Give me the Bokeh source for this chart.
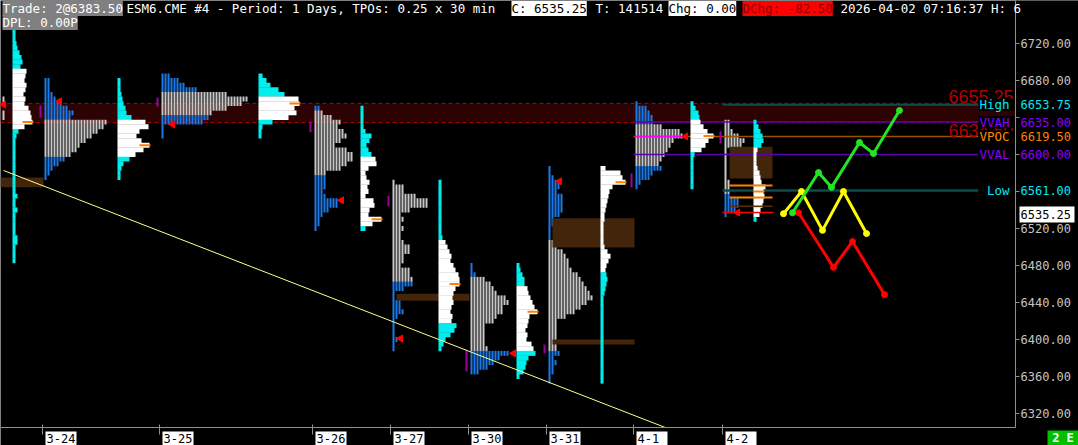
from math import pi

from bokeh.plotting import figure
from bokeh.models import Range1d, Label, ColumnDataSource
from bokeh.core.properties import value
from bokeh.embed import file_html
from bokeh.resources import INLINE

MONO = "DejaVu Sans Mono"
ROW = 5.0  # price height of one profile row (points)

# ---------------------------------------------------------------- sessions
sessions = ["3-23", "3-24", "3-25", "3-26", "3-27", "3-30", "3-31", "4-1", "4-2"]
session_x = [-75, 42, 159, 312, 390, 468, 546, 633, 722]

# ---------------------------------------------------------------- TPO profiles (count per 5-pt row, from top row down)
tpo_top = [6660, 6680, 6685, 6650, 6570, 6480, 6585, 6655, 6635]
tpo_vah = [6700, 6637.5, 6667.5, 6647.5, 6572.5, 6467.5, 6507.5, 6632.5, 6637.5]
tpo_val = [6600, 6597.5, 6642.5, 6577.5, 6462.5, 6387.5, 6387.5, 6587.5, 6557.5]

tpo_0323 = [26, 26, 24, 26, 26]
tpo_0324 = [2, 2, 2, 3, 4, 6, 8, 10, 9, 21, 20, 18, 16, 14, 12, 11, 9, 7, 5, 3, 2, 1]
tpo_0325 = [3, 6, 8, 12, 22, 29, 27, 22, 17, 16, 14, 1, 1, 1]
tpo_0326 = [2, 3, 6, 9, 8, 10, 11, 9, 7, 11, 13, 13, 11, 9, 4, 4, 4, 4, 3, 4, 8, 8, 5, 3, 2, 2, 1]
tpo_0327 = [1, 4, 4, 8, 12, 12, 6, 3, 4, 3, 4, 3, 3, 4, 6, 6, 4, 4, 3, 6, 6, 7, 7, 4, 1, 1, 3, 3,
            4, 2, 1, 1, 1, 1, 2, 1, 1]
tpo_0330 = [1, 1, 2, 5, 7, 8, 9, 12, 13, 11, 11, 9, 8, 5, 5, 5, 5, 5, 6, 13, 10, 8, 6, 3]
tpo_0331 = [1, 1, 2, 4, 4, 3, 5, 5, 5, 5, 4, 2, 2, 1, 1, 1, 2, 3, 5, 6, 7, 7, 8, 10, 11, 12, 13,
            14, 15, 13, 11, 9, 6, 3, 3, 3, 3, 3, 3, 3, 4, 2, 3, 2, 2, 1, 1]
tpo_0401 = [1, 4, 5, 6, 6, 9, 15, 16, 13, 12, 11, 10, 9, 8, 9, 6, 5, 2, 1]
tpo_0402 = [2, 2, 3, 5, 7, 6, 1, 1, 1, 1, 1, 1, 1, 2, 2, 2, 2, 5, 5, 4, 1]
tpo_counts = [tpo_0323, tpo_0324, tpo_0325, tpo_0326, tpo_0327, tpo_0330, tpo_0331, tpo_0401, tpo_0402]

# ---------------------------------------------------------------- volume profiles (scaled volume per 5-pt row)
vol_x = [12, 117, 258, 360, 438, 516, 600, 690, 753]
vol_top = [6735, 6680, 6685, 6650, 6570, 6480, 6585, 6655, 6635]
vol_vah = [6692.5, 6637.5, 6662.5, 6597.5, 6507.5, 6457.5, 6587.5, 6637.5, 6607.5]
vol_val = [6627.5, 6597.5, 6637.5, 6522.5, 6417.5, 6387.5, 6472.5, 6602.5, 6532.5]
vol_poc = [6635, 6610, 6655, 6530, 6460, 6430, 6570, 6620, 6560]

vol_0323 = [3, 3, 3, 4, 5, 7, 9, 10, 8, 14, 13, 12, 14, 13, 11, 13, 12, 16, 18, 19, 20, 12, 6, 4,
            3, 3, 3, 3, 3, 3, 3, 3, 3, 3, 3, 3, 5, 3, 3, 5, 3, 3, 3, 3, 3, 5, 5, 3, 3, 3, 3]
vol_0324 = [3, 3, 3, 4, 5, 6, 8, 9, 14, 28, 31, 22, 19, 24, 32, 26, 18, 12, 6, 4, 3, 3]
vol_0325 = [4, 8, 12, 20, 26, 40, 41, 36, 38, 30, 14, 4, 3, 3]
vol_0326 = [3, 3, 3, 3, 3, 5, 11, 9, 6, 8, 11, 15, 16, 8, 5, 6, 9, 7, 8, 5, 13, 14, 9, 8, 21, 12, 5]
vol_0327 = [3, 3, 3, 3, 3, 3, 3, 3, 3, 3, 3, 3, 4, 7, 9, 11, 13, 12, 15, 17, 20, 21, 21, 17, 15,
            14, 15, 13, 12, 14, 13, 18, 16, 12, 7, 5, 3]
vol_0330 = [3, 4, 6, 8, 8, 11, 12, 14, 16, 18, 21, 13, 12, 11, 9, 11, 10, 15, 17, 19, 12, 10, 9, 7, 3]
vol_0331 = [5, 20, 22, 25, 12, 9, 8, 7, 6, 5, 4, 4, 3, 3, 3, 3, 3, 4, 7, 10, 8, 6, 5, 6, 7, 6, 5, 4,
            3, 3, 3, 3, 3, 3, 3, 3, 3, 3, 3, 3, 3, 3, 3, 3, 3, 3, 3]
vol_0401 = [3, 5, 8, 9, 10, 13, 17, 23, 18, 15, 11, 4, 3, 3, 3, 3, 3, 3, 3]
vol_0402 = [3, 5, 7, 9, 10, 8, 4, 3, 3, 3, 4, 6, 7, 8, 12, 10, 11, 10, 9, 7, 6, 3]
vol_rows = [vol_0323, vol_0324, vol_0325, vol_0326, vol_0327, vol_0330, vol_0331, vol_0401, vol_0402]

# ---------------------------------------------------------------- session marks
close_x = [3, 59, 172, 341, 400, 513, 559, 685, 737]
close_px = [6654, 6657.5, 6632.5, 6550.5, 6401, 6385, 6571, 6619.5, 6537.25]
ib_hi = [6653, 6661.5, 6635.5, 6555.5, 6389, 6394.5, 6579.5, 6625]
ib_lo = [6640, 6652, 6624, 6544, 6365.5, 6385, 6564.5, 6612]
tpo_poc_0401 = 6619.5

# untested zones
zone_x0 = [0, 552, 552, 396, 729]
zone_x1 = [43, 634, 634, 469, 772]
zone_hi = [6575, 6531, 6400, 6449.5, 6608.5]
zone_lo = [6564.5, 6499.5, 6394.5, 6442, 6574]

# reference levels
band_hi, band_lo = 6655.25, 6634.50
lvl_names = ["High", "VVAH", "VPOC", "VVAL", "Low"]
lvl_price = [6653.75, 6635.00, 6619.50, 6600.00, 6561.00]
lvl_flags = ["6653.75", "6635.00", "6619.50", "6600.00", "6561.00"]
last_price = 6535.25
open_refs = [6566.5, 6553.5]
open_ref_minor = 6544

# trend line and scenario paths
trend_x = [3, 665]
trend_px = [6582.75, 6304.75]
bull_x = [792, 818, 831, 859, 873, 899]
bull_px = [6537, 6580.5, 6564.5, 6613, 6601, 6647.5]
range_x = [783, 801, 822, 843, 866]
range_px = [6536, 6560, 6518, 6560, 6514.5]
bear_x = [798, 833, 852, 884]
bear_px = [6537, 6478, 6506, 6448.5]

price_ticks = [6320, 6360, 6400, 6440, 6480, 6520, 6560, 6600, 6640, 6680, 6720]
hidden_ticks = [6560, 6600, 6640]   # covered by the level flags

# ---------------------------------------------------------------- frame geometry (price scale)
Y_TOP, Y_BOTTOM = 6766.486, 6285.405
PX = (Y_TOP - Y_BOTTOM) / 445.0       # points per screen pixel
Y_BORDER = Y_TOP - 427 * PX          # lower edge of the price pane
AXIS_X = 1015                         # price scale line

# ---------------------------------------------------------------- colours
TPO_IN, TPO_OUT = "#c8c8c8", "#1a7ae8"
VOL_IN, VOL_OUT = "#ffffff", "#00eeee"
ZONE = "#42250a"
SCALE = "#909090"

p = figure(width=1078, height=445, output_backend="svg", toolbar_location=None,
           x_range=Range1d(0, 1078), y_range=Range1d(Y_BOTTOM, Y_TOP),
           x_axis_location=None, y_axis_location=None,
           min_border=0, background_fill_color="black", border_fill_color="black",
           outline_line_color=None)
p.grid.visible = False


def rows(top, n):
    return [top - ROW * i for i in range(n)]


# prior value band
p.quad(left=[0], right=[AXIS_X], top=[band_hi], bottom=[band_lo], fill_color="#2c0202", line_color=None)
p.segment(x0=[0, 0], y0=[band_hi, band_lo], x1=[AXIS_X, AXIS_X], y1=[band_hi, band_lo],
          line_color="#b40000", line_width=1, line_dash="4 3")

# TPO profiles as stacked columns
seg = dict(left=[], right=[], top=[], bottom=[], color=[])
for sx, top, counts, vah, val in zip(session_x, tpo_top, tpo_counts, tpo_vah, tpo_val):
    prices = rows(top, len(counts))
    shade = [TPO_IN if val < pr < vah else TPO_OUT for pr in prices]
    for k in range(max(counts)):
        i = 0
        while i < len(counts):
            if counts[i] <= k:
                i += 1
                continue
            j = i
            while j + 1 < len(counts) and counts[j + 1] > k and shade[j + 1] == shade[i]:
                j += 1
            left = sx + 2 + 3 * k
            if left >= 0:
                seg["left"].append(left)
                seg["right"].append(left + 2)
                seg["top"].append(prices[i] + ROW / 2 + 0.2)
                seg["bottom"].append(prices[j] - ROW / 2 - 0.2)
                seg["color"].append(shade[i])
            i = j + 1
p.quad(left="left", right="right", top="top", bottom="bottom", fill_color="color",
       line_color=None, source=ColumnDataSource(seg))

# untested zones
p.quad(left=zone_x0, right=zone_x1, top=zone_hi, bottom=zone_lo, fill_color=ZONE, line_color=None)

# composite levels of the last sessions
lvl_from = [session_x[8], session_x[7], session_x[7], session_x[7], session_x[8]]
lvl_line_colors = ["#0b4c4c", "#5a00b4", "#9a5200", "#5a00b4", "#0b4c4c"]
lvl_widths = [2, 1.5, 1.5, 1.5, 2.5]
p.segment(x0=lvl_from, y0=lvl_price, x1=[978] * 5, y1=lvl_price,
          line_color=lvl_line_colors, line_width=lvl_widths)

# volume profiles
vb = dict(left=[], right=[], y=[], color=[])
poc_x0, poc_x1, poc_y = [], [], []
for vx, top, widths, vah, val, poc in zip(vol_x, vol_top, vol_rows, vol_vah, vol_val, vol_poc):
    for pr, w in zip(rows(top, len(widths)), widths):
        vb["left"].append(vx)
        vb["right"].append(vx + w)
        vb["y"].append(pr)
        vb["color"].append(VOL_IN if val < pr < vah else VOL_OUT)
        if pr == poc:
            poc_x0.append(vx + w - 10)
            poc_x1.append(vx + w + 1)
            poc_y.append(pr)
p.hbar(y="y", left="left", right="right", height=ROW + 0.4, fill_color="color",
       line_color=None, source=ColumnDataSource(vb))
p.segment(x0=poc_x0, y0=poc_y, x1=poc_x1, y1=poc_y, line_color="#ff8000", line_width=2)

# initial balance ticks, TPO POC of 4-1
ib_x = [s - 2 for s in session_x[1:]]
p.segment(x0=ib_x, y0=ib_hi, x1=ib_x, y1=ib_lo, line_color="#a000a0", line_width=2)
p.segment(x0=[session_x[7] + 2], y0=[tpo_poc_0401], x1=[session_x[7] + 50], y1=[tpo_poc_0401],
          line_color="#ff00ff", line_width=1.5)

# open references of the current session
p.segment(x0=[729, 729], y0=open_refs, x1=[772, 772], y1=open_refs, line_color="#ff8000", line_width=2)
p.segment(x0=[729], y0=[open_ref_minor], x1=[772], y1=[open_ref_minor], line_color="#5a2e08", line_width=1.5)
p.segment(x0=[722], y0=[close_px[8]], x1=[773], y1=[close_px[8]], line_color="#ff0000", line_width=1.5)

# session closes
p.scatter(x=close_x, y=close_px, marker="triangle", angle=pi / 2, size=7,
          fill_color="#ff0000", line_color="#ff0000")

# trend line and scenario paths
p.line(trend_x, trend_px, line_color="#ffff8c", line_width=1)
for xs, ys, col in ((range_x, range_px, "#ffff00"), (bear_x, bear_px, "#ff0000"), (bull_x, bull_px, "#22e622")):
    p.line(xs, ys, line_color=col, line_width=3)
    p.scatter(xs, ys, marker="circle", size=6, fill_color=col, line_color=col)

# band prices and level names
p.text(x=[1013], y=[band_hi], text=["6655.25"], text_color="#b40000", text_align="right",
       text_baseline="bottom", text_font=value("Liberation Sans"), text_font_size="18px")
p.text(x=[1013], y=[band_lo], text=["6634.50"], text_color="#b40000", text_align="right",
       text_baseline="top", text_font=value("Liberation Sans"), text_font_size="18px", y_offset=1)
p.quad(left=[978] * 5, right=[1014] * 5, top=[v + 6.5 for v in lvl_price],
       bottom=[v - 6.5 for v in lvl_price], fill_color="black", line_color=None)
lvl_text_colors = ["#00e8f8", "#8a00ff", "#ff8a00", "#8a00ff", "#00e8f8"]
p.text(x=[1009] * 5, y=lvl_price, text=lvl_names, text_color=lvl_text_colors, text_align="right",
       text_baseline="middle", text_font=value(MONO), text_font_size="12.5px")

# ---------------------------------------------------------------- price scale
p.quad(left=[AXIS_X + 0.5], right=[1078], top=[Y_TOP], bottom=[Y_BORDER], fill_color="black", line_color=None)
p.segment(x0=[AXIS_X], y0=[Y_BORDER], x1=[AXIS_X], y1=[Y_TOP], line_color=SCALE, line_width=1)
p.segment(x0=[0], y0=[Y_BORDER], x1=[AXIS_X], y1=[Y_BORDER], line_color=SCALE, line_width=1)
p.segment(x0=[AXIS_X] * len(price_ticks), y0=price_ticks, x1=[AXIS_X + 4] * len(price_ticks),
          y1=price_ticks, line_color=SCALE, line_width=1)
shown = [t for t in price_ticks if t not in hidden_ticks]
p.text(x=[AXIS_X + 5] * len(shown), y=shown, text=["%.2f" % t for t in shown], text_color="#c4c4c4",
       text_baseline="middle", text_font=value(MONO), text_font_size="12px")
p.text(x=[AXIS_X + 5] * 5, y=lvl_price, text=lvl_flags,
       text_color=["#00e8f8", "#8a00ff", "#ff8000", "#8a00ff", "#00e8f8"],
       text_baseline="middle", text_font=value(MONO), text_font_size="12px")
p.quad(left=[AXIS_X + 4], right=[AXIS_X + 59], top=[last_price + 8 * PX], bottom=[last_price - 8 * PX],
       fill_color="white", line_color=None)
p.text(x=[AXIS_X + 5], y=[last_price], text=["%.2f" % last_price], text_color="black",
       text_baseline="middle", text_font=value(MONO), text_font_size="12px")

# ---------------------------------------------------------------- session dates
date_x = session_x[1:]
p.segment(x0=date_x, y0=[Y_BORDER + 3 * PX] * len(date_x), x1=date_x, y1=[Y_BORDER - 7 * PX] * len(date_x),
          line_color=SCALE, line_width=1)
p.quad(left=[x + 3 for x in date_x], right=[x + 34 for x in date_x],
       top=[Y_BORDER - 4 * PX] * len(date_x), bottom=[Y_BOTTOM] * len(date_x),
       fill_color="white", line_color=None)
p.text(x=[x + 4 for x in date_x], y=[Y_BORDER - 11 * PX] * len(date_x), text=sessions[1:],
       text_color="black", text_baseline="middle", text_font=value(MONO), text_font_size="12px")

p.quad(left=[1047], right=[1078], top=[Y_BORDER - 3 * PX], bottom=[Y_BOTTOM], fill_color="#00c000",
       line_color=None)
p.text(x=[1062.5], y=[Y_BORDER - 10.5 * PX], text=["2 E"], text_color="white", text_align="center",
       text_baseline="middle", text_font=value(MONO), text_font_size="12px", text_font_style="bold")

# ---------------------------------------------------------------- status header
header = [
    ("Trade: 2@6383.50", 2, 8, "white", "#808080"),
    ("ESM6.CME #4 - Period: 1 Days, TPOs: 0.25 x 30 min", 126, 8, "white", None),
    ("C: 6535.25", 511, 8, "black", "white"),
    ("T: 141514", 595, 8, "white", None),
    ("Chg: 0.00", 668, 8, "black", "white"),
    ("DChg: -82.50", 742, 8, "#8b0000", "#ff0000"),
    ("2026-04-02 07:16:37 H: 6", 840, 8, "white", None),
    ("DPL: 0.00P", 2, 22, "white", "#808080"),
]
for txt, hx, hy, col, bg in header:
    p.add_layout(Label(x=hx, y=445 - hy, x_units="screen", y_units="screen", text=txt, text_color=col,
                       text_font=MONO, text_font_size="12.5px", text_baseline="middle",
                       background_fill_color=bg))

open("out.html", "w").write(file_html(p, INLINE))
